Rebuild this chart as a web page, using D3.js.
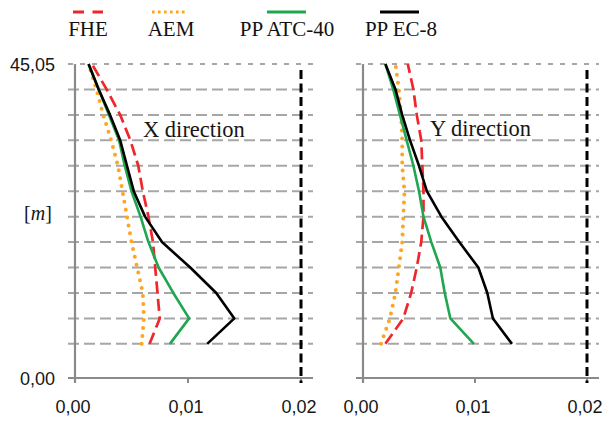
<!DOCTYPE html>
<html><head><meta charset="utf-8">
<script src="https://cdn.jsdelivr.net/npm/d3@7"></script>
<style>html,body{margin:0;padding:0;background:#fff;}svg{display:block;}</style>
</head><body>
<svg id="c" width="606" height="421"></svg>
<script>
// ---- data ----
const levels = [4.9, 8.55, 12.2, 15.85, 19.5, 23.15, 26.8, 30.45, 34.1, 37.75, 41.4, 45.05];
const xTicks = [0, 0.01, 0.02];
const yTicks = [0, 45.05];
const seriesNames = ["FHE", "AEM", "PP ATC-40", "PP EC-8"];
const limitDrift = 0.02;

// X direction
const xFHE = [0.0066, 0.0075, 0.0073, 0.0071, 0.0069, 0.0065, 0.0060, 0.0056, 0.0049, 0.0040, 0.0028, 0.0015];
const xAEM = [0.0059, 0.0061, 0.0060, 0.0055, 0.0050, 0.0046, 0.0042, 0.0038, 0.0032, 0.0025, 0.0019, 0.0012];
const xATC = [0.0084, 0.0101, 0.0087, 0.0074, 0.0065, 0.0058, 0.0050, 0.0044, 0.0039, 0.0030, 0.0021, 0.0012];
const xEC8 = [0.0117, 0.0141, 0.0125, 0.0102, 0.0077, 0.0062, 0.0052, 0.0046, 0.0040, 0.0031, 0.0021, 0.0012];

// Y direction
const yFHE = [0.0020, 0.0036, 0.0043, 0.0048, 0.0052, 0.0054, 0.0054, 0.0053, 0.0052, 0.0048, 0.0045, 0.0040];
const yAEM = [0.0016, 0.0024, 0.0029, 0.0032, 0.0035, 0.0036, 0.0037, 0.0035, 0.0035, 0.0034, 0.0032, 0.0029];
const yATC = [0.0099, 0.0078, 0.0073, 0.0069, 0.0061, 0.0054, 0.0050, 0.0045, 0.0039, 0.0033, 0.0027, 0.0020];
const yEC8 = [0.0133, 0.0116, 0.0111, 0.0103, 0.0086, 0.0070, 0.0057, 0.0050, 0.0042, 0.0035, 0.0029, 0.0020];

// ---- styles ----
const styles = [
  {color:"#f0262b", width:2.7, dash:"12,5.5", cap:"butt"},
  {color:"#ffa51f", width:4, dash:"0,8", cap:"round"},
  {color:"#1fa64f", width:2.6, dash:null, cap:"butt"},
  {color:"#000000", width:2.6, dash:null, cap:"butt"}
];

const svg = d3.select("#c");
const y = d3.scaleLinear().domain([0, 45.05]).range([378, 64]);
const fmt = v => d3.format(".2f")(v).replace(".", ",");
const gridColor = "#a6a6a6", axisColor = "#8a8a8a", textColor = "#161616";

const panels = [
  {x: d3.scaleLinear().domain([0, 0.02]).range([75, 301]), data:[xFHE, xAEM, xATC, xEC8], title:"X direction", tx:143, ty:137, yLabels:true},
  {x: d3.scaleLinear().domain([0, 0.02]).range([363, 587]), data:[yFHE, yAEM, yATC, yEC8], title:"Y direction", tx:430, ty:136, yLabels:false}
];

panels.forEach(p => {
  const g = svg.append("g");
  const x0 = p.x(0), x1 = p.x(0.02);
  // horizontal gridlines at floor levels
  g.selectAll("line.grid").data(levels).enter().append("line")
    .attr("x1", x0 - 7).attr("x2", x1 + 12)
    .attr("y1", d => y(d)).attr("y2", d => y(d))
    .attr("stroke", gridColor).attr("stroke-width", 2)
    .attr("stroke-dasharray", (d,i) => i === levels.length - 1 ? "5,7" : "11,5");
  // y axis
  g.append("line").attr("x1", x0).attr("x2", x0).attr("y1", y(45.05)).attr("y2", y(0) + 5)
    .attr("stroke", axisColor).attr("stroke-width", 2.2);
  // x axis
  g.append("line").attr("x1", x0 - 7).attr("x2", x1 + 12).attr("y1", y(0)).attr("y2", y(0))
    .attr("stroke", axisColor).attr("stroke-width", 2.2);
  g.selectAll("line.xt").data(xTicks).enter().append("line")
    .attr("x1", d => p.x(d)).attr("x2", d => p.x(d)).attr("y1", y(0)).attr("y2", y(0) + 5)
    .attr("stroke", axisColor).attr("stroke-width", 2);
  g.selectAll("text.xl").data(xTicks).enter().append("text")
    .attr("x", d => p.x(d) - 2).attr("y", 413).attr("text-anchor", "middle")
    .attr("font-family", "Liberation Sans, Arial, sans-serif").attr("font-size", 18)
    .attr("fill", textColor).text(fmt);
  if (p.yLabels) {
    g.selectAll("text.yl").data(yTicks).enter().append("text")
      .attr("x", 55).attr("y", d => y(d) + 6.5).attr("text-anchor", "end")
      .attr("font-family", "Liberation Sans, Arial, sans-serif").attr("font-size", 18)
      .attr("fill", textColor).text(fmt);
  }
  // limit line
  g.append("line").attr("x1", p.x(limitDrift)).attr("x2", p.x(limitDrift))
    .attr("y1", y(45.05) + 6).attr("y2", y(0) + 5)
    .attr("stroke", "#000").attr("stroke-width", 3).attr("stroke-dasharray", "9,4.5");
  // series
  p.data.forEach((arr, i) => {
    const s = styles[i];
    const line = d3.line().x(d => p.x(d[0])).y(d => y(d[1]));
    g.append("path").attr("d", line(arr.map((v, k) => [v, levels[k]])))
      .attr("fill", "none").attr("stroke", s.color).attr("stroke-width", s.width)
      .attr("stroke-dasharray", s.dash).attr("stroke-linecap", s.cap).attr("stroke-linejoin", "round");
  });
  g.append("text").attr("x", p.tx).attr("y", p.ty)
    .attr("font-family", "Liberation Serif, Times New Roman, serif").attr("font-size", 22.5)
    .attr("fill", textColor).text(p.title);
});

// [m] label
const ml = svg.append("text").attr("x", 38).attr("y", 220).attr("text-anchor", "middle")
  .attr("font-family", "Liberation Serif, Times New Roman, serif").attr("font-size", 20).attr("fill", textColor);
ml.append("tspan").text("[");
ml.append("tspan").attr("font-style", "italic").text("m");
ml.append("tspan").text("]");

// legend
const legX = [88, 171, 287, 401];
const legLine = [[73, 103], [152, 188], [267, 306], [380, 419]];
const lg = svg.append("g");
seriesNames.forEach((n, i) => {
  const s = styles[i];
  lg.append("line").attr("x1", legLine[i][0]).attr("x2", legLine[i][1]).attr("y1", 12).attr("y2", 12)
    .attr("stroke", s.color).attr("stroke-width", i === 1 ? 2.8 : 3)
    .attr("stroke-dasharray", i === 0 ? "11,8.5" : (i === 1 ? "2.6,3.4" : null));
  lg.append("text").attr("x", legX[i]).attr("y", 36).attr("text-anchor", "middle")
    .attr("font-family", "Liberation Serif, Times New Roman, serif").attr("font-size", 21)
    .attr("fill", "#111").text(n);
});
</script>
</body></html>
